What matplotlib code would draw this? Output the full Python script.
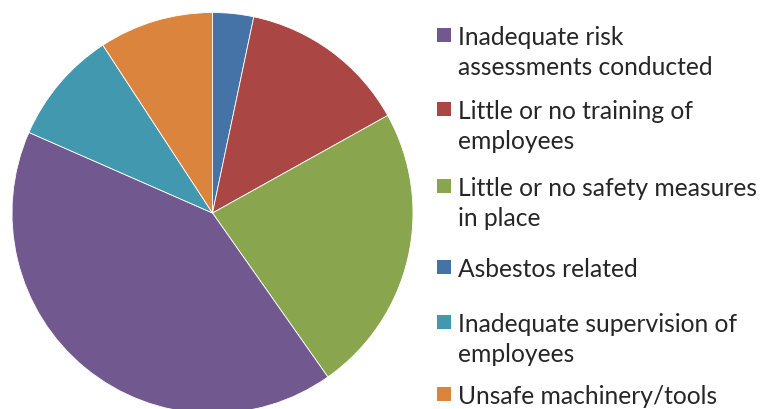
import matplotlib
matplotlib.use("Agg")
import matplotlib.pyplot as plt
from matplotlib.patches import Rectangle

# Slice data in drawing order (clockwise from 12 o'clock)
slice_labels = ["Asbestos related",
                "Little or no training of\nemployees",
                "Little or no safety measures\nin place",
                "Inadequate risk\nassessments conducted",
                "Inadequate supervision of\nemployees",
                "Unsafe machinery/tools"]
slice_values = [3.3, 13.6, 23.3, 41.3, 9.2, 9.2]
slice_colors = ["#4572A7", "#AA4643", "#89A54E", "#71588F", "#4198AF", "#DB843D"]

# Legend order
legend_order = [3, 1, 2, 0, 4, 5]

W, H = 762, 410
fig = plt.figure(figsize=(W / 100, H / 100), dpi=100)

cx, cy, r = 212.5, 214.0, 200.5
ax = fig.add_axes([(cx - r) / W, (H - cy - r) / H, 2 * r / W, 2 * r / H])
ax.pie(slice_values, colors=slice_colors, startangle=90, counterclock=False,
       radius=1.0, wedgeprops=dict(edgecolor="white", linewidth=0.6))
ax.set_xlim(-1, 1)
ax.set_ylim(-1, 1)
ax.set_aspect("equal")
ax.axis("off")

# Manual legend (pixel positions of marker centres)
marker_y = [36, 110, 187, 268, 323, 395]
sq = 14
for idx, ypix in zip(legend_order, marker_y):
    fig.patches.append(Rectangle(((437) / W, (H - ypix - sq / 2) / H), sq / W, sq / H,
                                 transform=fig.transFigure, facecolor=slice_colors[idx],
                                 edgecolor="none"))
    fig.text(458 / W, (H - ypix + 10) / H, slice_labels[idx], ha="left", va="top",
             fontsize=17.7, family="Lato", color="#262626", linespacing=1.38)

fig.savefig("out.png", dpi=100)
